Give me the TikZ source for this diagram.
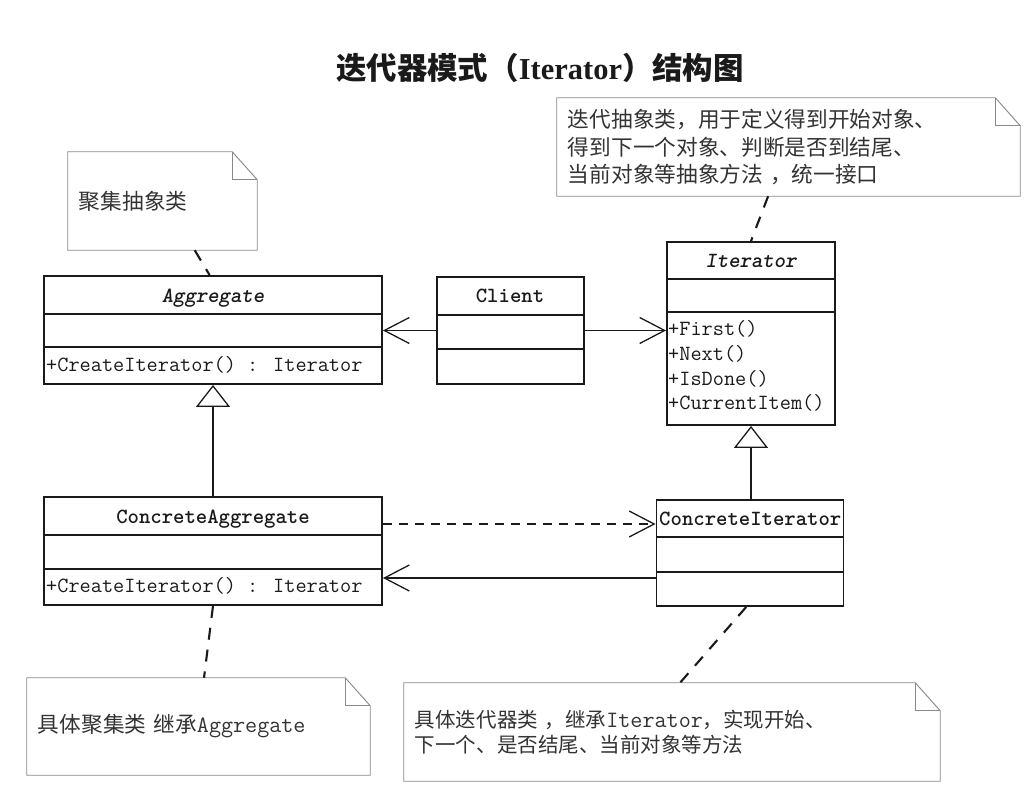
\documentclass[tikz,border=0pt]{standalone}
\usepackage{fontspec}
\newfontfamily\cjk{Noto Sans CJK SC}
\newfontfamily\titleserif{Liberation Serif}
\usetikzlibrary{arrows.meta,calc}

\definecolor{ink}{HTML}{1A1A1A}
\definecolor{notegray}{HTML}{8A8A8A}
\definecolor{notetext}{HTML}{333333}

\tikzset{
  classbox/.style={draw=ink, line width=1.6pt, inner sep=0pt},
  classrule/.style={draw=ink, line width=1.6pt},
  clsname/.style={anchor=base, inner sep=0pt, text=ink, font=\ttfamily\bfseries\fontsize{18.5}{22}\selectfont},
  clsop/.style={anchor=base west, inner sep=0pt, text=ink, font=\ttfamily\fontsize{18.5}{22}\selectfont},
  notebox/.style={inner xsep=0.33cm, inner ysep=0pt, align=left, text=notetext,
    font=\cjk\fontsize{18.5}{23.5}\selectfont},
  noteline/.style={draw=notegray, line width=0.8pt},
  notelink/.style={draw=ink, line width=1.8pt, dash pattern=on 0.36cm off 0.3cm},
  assoc/.style={draw=ink, line width=1.1pt, -{Straight Barb[length=0.75cm,width=0.78cm]}},
  depend/.style={assoc, dash pattern=on 0.27cm off 0.21cm},
  inherit/.style={draw=ink, line width=1.1pt, -{Triangle[open,length=0.66cm,width=1.02cm,fill=white]}},
}

% the two rules that split a class box, given as offsets from its top
\newcommand{\compart}[3]{%
  \draw[classrule] ($(#1.north west)+(0,#2)$) -- ($(#1.north east)+(0,#2)$);
  \draw[classrule] ($(#1.north west)+(0,#3)$) -- ($(#1.north east)+(0,#3)$);}

% note outline with a folded corner
\newcommand{\dogear}[1]{%
  \draw[noteline] (#1.south west) -- (#1.north west) -- ($(#1.north east)+(-25,0)$)
    -- ($(#1.north east)+(0,28)$) -- (#1.south east) -- cycle;
  \draw[noteline] ($(#1.north east)+(-25,0)$) -- ($(#1.north east)+(-25,28)$)
    -- ($(#1.north east)+(0,28)$);}

\newcommand{\notett}[1]{{\ttfamily\fontsize{20}{23.5}\selectfont #1}}

\begin{document}
\begin{tikzpicture}[x=0.03cm, y=-0.03cm]
\useasboundingbox[fill=white] (0,0) rectangle (1033,796);

% Title
\node[font=\bfseries\fontsize{26}{30}\selectfont, text=ink] (title) at (540,68)
  {\cjk 迭代器模式（\titleserif Iterator\cjk ）结构图};

% Class boxes
\node[classbox, minimum width=10.14cm, minimum height=3.24cm] (aggregate) at (213,330) {};
\node[classbox, minimum width=4.41cm, minimum height=3.21cm] (client) at (510.5,330.5) {};
\node[classbox, minimum width=5.04cm, minimum height=5.49cm] (iterator) at (751,333.5) {};
\node[classbox, minimum width=10.14cm, minimum height=3.24cm] (concagg) at (213,551) {};
\node[classbox, minimum width=5.61cm, minimum height=3.18cm] (conciter) at (750,553) {};

\compart{aggregate}{39}{72}
\compart{client}{39}{73}
\compart{iterator}{38}{71}
\compart{concagg}{39}{73}
\compart{conciter}{38}{73}

% Class texts
\node[clsname] (aggname) at (213,303) {\itshape Aggregate};
\node[clsop] (aggop) at (46,372) {+CreateIterator() : Iterator};
\node[clsname] (clientname) at (510,303) {Client};
\node[clsname] (itername) at (751,268) {\itshape Iterator};
\node[clsop] (opfirst) at (668,336) {+First()};
\node[clsop] (opnext) at (668,360) {+Next()};
\node[clsop] (opdone) at (668,385) {+IsDone()};
\node[clsop] (opitem) at (668,409) {+CurrentItem()};
\node[clsname] (caggname) at (213,523) {ConcreteAggregate};
\node[clsop] (caggop) at (46,592) {+CreateIterator() : Iterator};
\node[clsname, anchor=base west] (citername) at (659,525) {ConcreteIterator};

% Relations
\draw[assoc] (client.west) -- (client.west -| aggregate.east);
\draw[assoc] (client.east) -- (client.east -| iterator.west);
\draw[inherit] (concagg.north) -- (aggregate.south);
\draw[inherit] (conciter.north -| iterator.south) -- (iterator.south);
\coordinate (dep) at ($(concagg.east)+(0,-27)$);
\draw[depend] (dep) -- (dep -| conciter.west);
\coordinate (nav) at ($(conciter.west)+(0,25)$);
\draw[assoc] (nav) -- (nav -| concagg.east);

% Notes
\node[notebox, text width=5.01cm, minimum height=2.94cm] (aggnote) at (162.5,201) {聚集抽象类};
\node[notebox, text width=13.23cm, minimum height=2.94cm] (iternote) at (788.5,147)
  {迭代抽象类，用于定义得到开始对象、\\得到下一个对象、判断是否到结尾、\\当前对象等抽象方法 ，统一接口};
\node[notebox, text width=9.63cm, minimum height=2.91cm] (caggnote) at (198.5,726.5)
  {具体聚集类 继承\notett{Aggregate}};
\node[notebox, text width=15.42cm, minimum height=2.94cm,
  font=\cjk\fontsize{17.5}{21.5}\selectfont] (citernote) at (672,732)
  {具体迭代器类 ，继承\notett{Iterator}，实现开始、\\下一个、是否结尾、当前对象等方法};

\dogear{aggnote}
\dogear{iternote}
\dogear{caggnote}
\dogear{citernote}

% Note links
\draw[notelink] ($(aggnote.south west)!0.67!(aggnote.south east)$)
  -- ($(aggregate.north west)!0.49!(aggregate.north east)$);
\draw[notelink] ($(iternote.south west)!0.456!(iternote.south east)$) -- (iterator.north);
\draw[notelink] (concagg.south) -- ($(caggnote.north west)!0.516!(caggnote.north east)$);
\draw[notelink] ($(conciter.south west)!0.48!(conciter.south east)$)
  -- ($(citernote.north west)!0.515!(citernote.north east)$);

\end{tikzpicture}
\end{document}
